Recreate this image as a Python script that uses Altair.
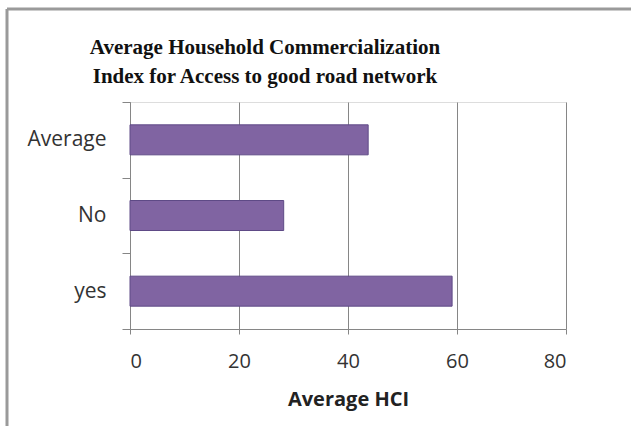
import altair as alt
import pandas as pd

categories = ["Average", "No", "yes"]
values = [43.7, 28.2, 59.1]
x_ticks = [0, 20, 40, 60, 80]

df = pd.DataFrame({"group": categories, "hci": values})

GRID = "#868686"
LABEL_FONT = "Open Sans"

bars = alt.Chart(df).mark_bar(
    size=30, color="#8064A2", stroke="#5E4A86", strokeWidth=1
).encode(
    x=alt.X(
        "hci:Q",
        scale=alt.Scale(domain=[0, 80], nice=False),
        axis=alt.Axis(
            values=x_ticks, title="Average HCI", grid=True, gridColor=GRID,
            gridWidth=1, gridOpacity=1, domainColor=GRID, tickColor=GRID,
            tickSize=5, labelFont=LABEL_FONT, labelFontSize=20,
            labelColor="#333333", labelPadding=17, titleFont=LABEL_FONT,
            titleFontSize=20, titleFontWeight="bold", titleColor="#222222",
            titlePadding=18,
        ),
    ),
    y=alt.Y(
        "group:N",
        sort=categories,
        scale=alt.Scale(paddingInner=0, paddingOuter=0),
        axis=alt.Axis(
            title=None, tickBand="extent", grid=False, domainColor=GRID,
            tickColor=GRID, tickSize=8, labelFont=LABEL_FONT, labelFontSize=21,
            labelColor="#333333", labelPadding=16,
        ),
    ),
)

frame_top = alt.Chart().mark_rule(color="#9a9a9a", strokeWidth=3).encode(
    x=alt.value(-123), x2=alt.value(510), y=alt.value(-93)
)
frame_left = alt.Chart().mark_rule(color="#9a9a9a", strokeWidth=3).encode(
    x=alt.value(-123), y=alt.value(-93), y2=alt.value(330)
)

chart = alt.layer(bars, frame_top, frame_left).properties(
    width=436,
    height=227,
    title=alt.TitleParams(
        ["Average Household Commercialization", "Index for Access to good road network"],
        font="Liberation Serif", fontSize=21, fontWeight="bold", color="#111111",
        anchor="middle", dx=-83, lineHeight=29, offset=-79,
    ),
    autosize=alt.AutoSizeParams(type="none"),
    padding={"left": 130, "top": 102, "right": 65, "bottom": 97},
).configure_view(
    fill="#EEEBF2", stroke=None
).configure(background="white")

chart.save("out.html", embed_options={"renderer": "svg", "actions": False})
